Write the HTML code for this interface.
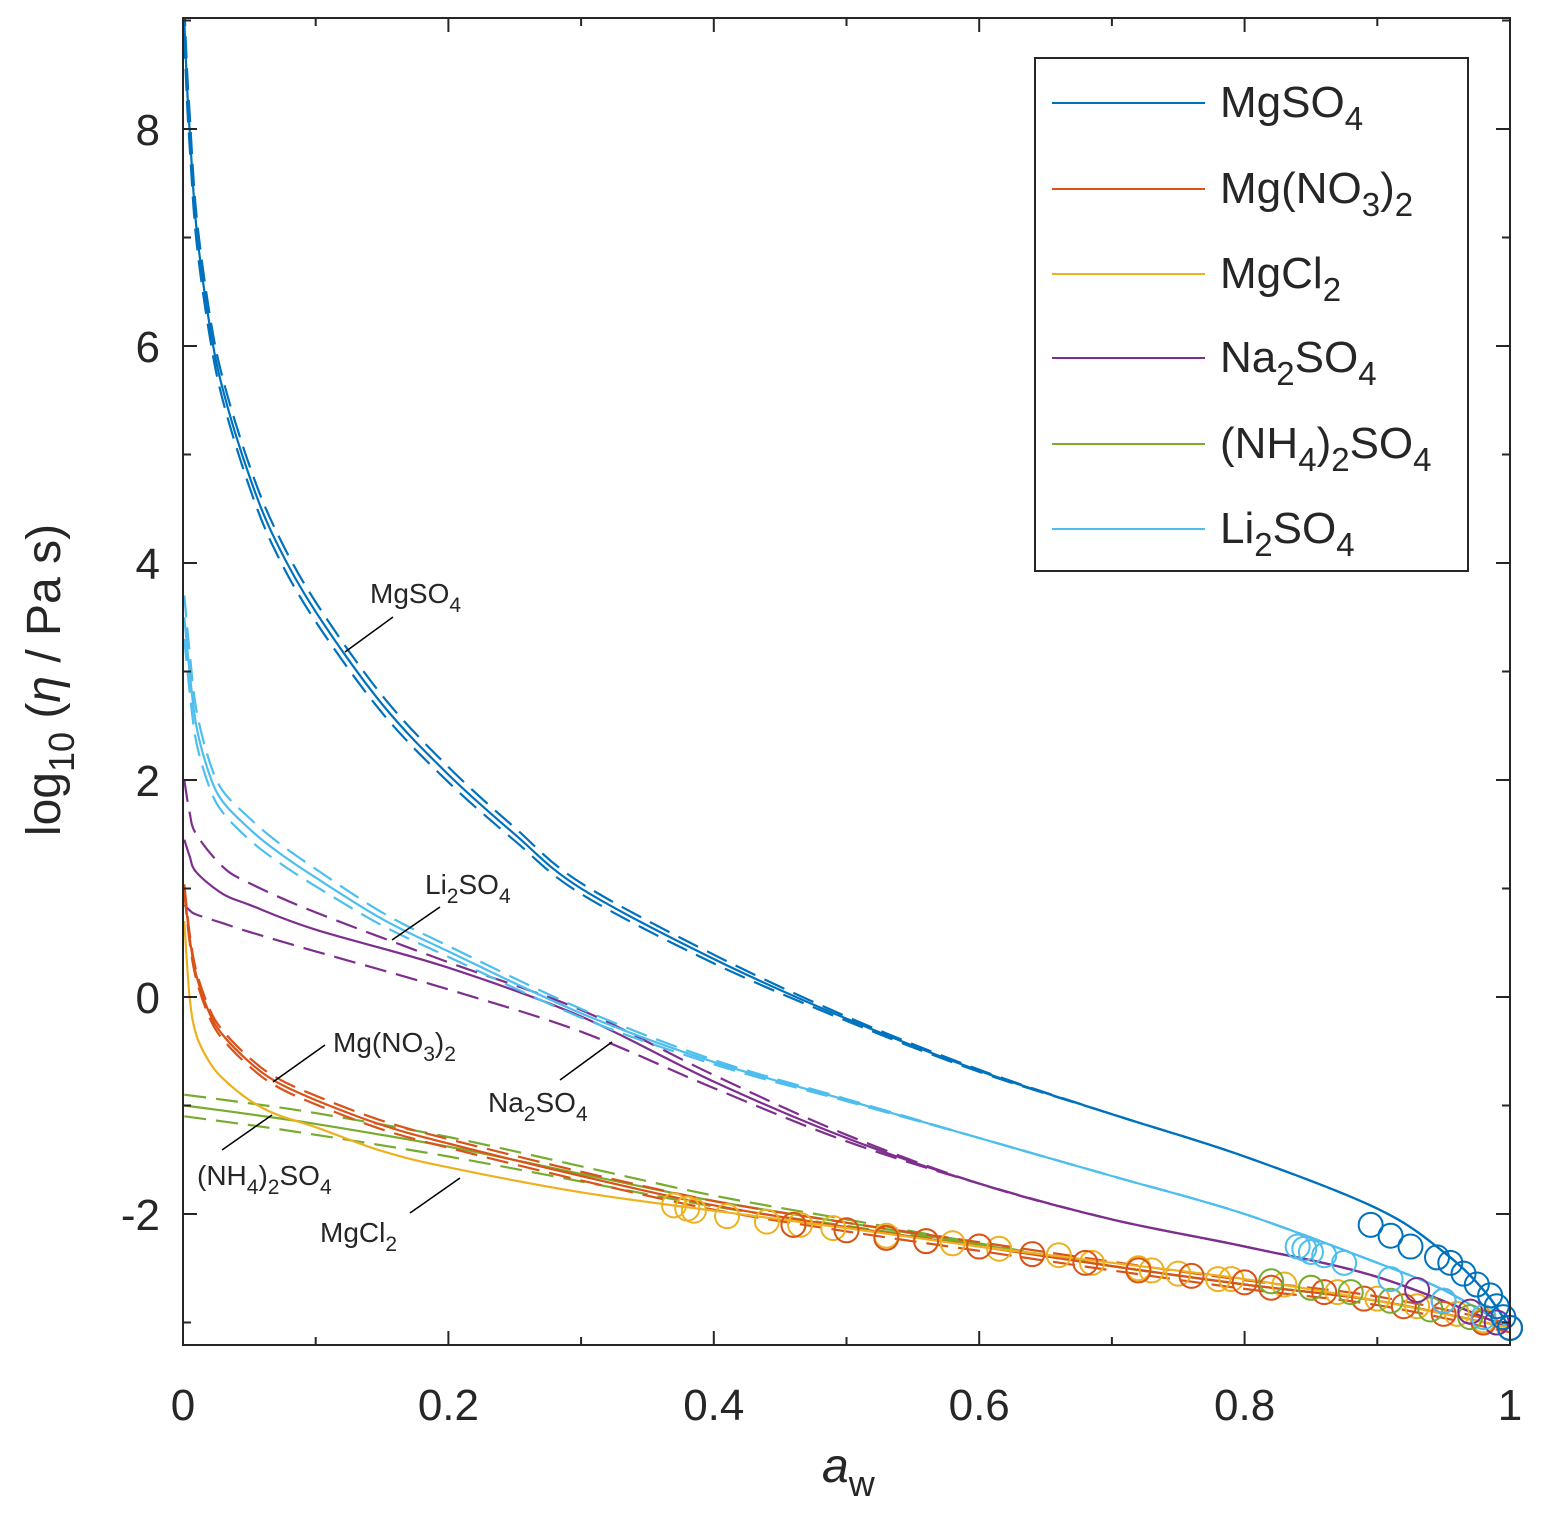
<!DOCTYPE html>
<html><head><meta charset="utf-8"><style>
body{margin:0;background:#fff;}
svg{display:block;font-family:"Liberation Sans",Arial,sans-serif;}
</style></head><body>
<svg id="chart" width="1545" height="1532" viewBox="0 0 1545 1532">
<g id="plot"></g>
</svg>
<script>
const salts = ["MgSO4","Mg(NO3)2","MgCl2","Na2SO4","(NH4)2SO4","Li2SO4"];
const colors = ["#0072BD","#D95319","#EDB120","#7E2F8E","#77AC30","#4DBEEE"];
const xTicks = [0,0.2,0.4,0.6,0.8,1];
const xTickLabels = ["0","0.2","0.4","0.6","0.8","1"];
const yTicks = [-2,0,2,4,6,8];
const yTickLabels = ["-2","0","2","4","6","8"];

const awMgSO4 = [0.001,0.003,0.005,0.01,0.02,0.03,0.05,0.07,0.1,0.15,0.2,0.25,0.3,0.4,0.5,0.6,0.7,0.8,0.9,0.95,0.98,1];
const logMgSO4 = [9,8.4,8,7.1,6.2,5.6,4.8,4.2,3.55,2.7,2.05,1.5,1.0,0.35,-0.2,-0.68,-1.08,-1.47,-1.95,-2.35,-2.7,-3.05];
const bandMgSO4 = [0.15,0.15,0.15,0.12,0.1,0.1,0.1,0.1,0.09,0.08,0.07,0.06,0.05,0.04,0.02,0.01,0,0,0,0,0,0];

const awLi = [0.001,0.005,0.01,0.02,0.03,0.05,0.07,0.1,0.15,0.2,0.3,0.4,0.5,0.6,0.7,0.8,0.9,0.95,1];
const logLi = [3.5,3.0,2.5,2.05,1.8,1.55,1.35,1.1,0.72,0.42,-0.15,-0.6,-0.95,-1.3,-1.65,-2.0,-2.45,-2.7,-3.05];
const bandLi = [0.2,0.18,0.15,0.12,0.1,0.1,0.09,0.08,0.06,0.05,0.04,0.02,0.01,0,0,0,0,0,0];

const awNa = [0.001,0.005,0.01,0.03,0.05,0.1,0.2,0.3,0.4,0.5,0.6,0.7,0.8,0.9,1];
const logNa = [1.45,1.3,1.15,0.95,0.85,0.62,0.27,-0.18,-0.78,-1.3,-1.72,-2.05,-2.3,-2.58,-3.05];
const logNaUp = [2.0,1.7,1.5,1.2,1.05,0.78,0.32,-0.12,-0.72,-1.27,-1.72,-2.05,-2.3,-2.58,-3.05];
const logNaLo = [0.85,0.8,0.76,0.68,0.6,0.42,0.07,-0.32,-0.84,-1.33,-1.72,-2.05,-2.3,-2.58,-3.05];

const awNO3 = [0.001,0.005,0.01,0.02,0.03,0.05,0.07,0.1,0.15,0.2,0.3,0.4,0.5,0.6,0.7,0.8,0.9,1];
const logNO3 = [1.0,0.55,0.2,-0.15,-0.35,-0.6,-0.78,-0.95,-1.18,-1.35,-1.65,-1.92,-2.12,-2.3,-2.48,-2.65,-2.8,-3.05];

const awCl = [0.001,0.005,0.01,0.02,0.03,0.05,0.07,0.1,0.15,0.2,0.3,0.4,0.5,0.6,0.7,0.8,0.9,1];
const logCl = [0.7,0.0,-0.35,-0.6,-0.75,-0.95,-1.08,-1.2,-1.42,-1.57,-1.8,-1.97,-2.13,-2.3,-2.45,-2.6,-2.8,-3.05];

const awNH = [0.001,0.05,0.1,0.2,0.3,0.4,0.5,0.6,0.7,0.8,0.9,1];
const logNH = [-1.0,-1.08,-1.17,-1.38,-1.63,-1.88,-2.08,-2.28,-2.48,-2.65,-2.8,-3.05];
const bandNH = [0.1,0.1,0.1,0.09,0.07,0.05,0.03,0.01,0,0,0,0];

const circAwMgSO4 = [0.895,0.91,0.925,0.945,0.955,0.965,0.975,0.985,0.99,0.995,1];
const circLogMgSO4 = [-2.1,-2.2,-2.3,-2.4,-2.45,-2.55,-2.65,-2.75,-2.85,-2.95,-3.05];
const circAwLi = [0.84,0.845,0.85,0.86,0.875,0.91,0.95,0.98,1];
const circLogLi = [-2.3,-2.32,-2.35,-2.38,-2.45,-2.6,-2.8,-2.95,-3.05];
const circAwNa = [0.93,0.95,0.97,0.99,1];
const circLogNa = [-2.7,-2.8,-2.9,-3.0,-3.05];
const circAwCl = [0.37,0.38,0.385,0.41,0.44,0.46,0.465,0.49,0.53,0.56,0.58,0.6,0.615,0.66,0.685,0.72,0.73,0.75,0.78,0.79,0.83,0.85,0.87,0.9,0.93,0.96,0.98,1];
const circLogCl = [-1.92,-1.95,-1.97,-2.02,-2.07,-2.1,-2.1,-2.13,-2.2,-2.25,-2.27,-2.3,-2.32,-2.38,-2.45,-2.5,-2.52,-2.55,-2.6,-2.6,-2.65,-2.68,-2.72,-2.78,-2.85,-2.92,-2.98,-3.05];
const circAwNO3 = [0.46,0.5,0.53,0.56,0.6,0.64,0.68,0.72,0.76,0.8,0.82,0.86,0.89,0.92,0.95,0.98,1];
const circLogNO3 = [-2.1,-2.15,-2.22,-2.25,-2.3,-2.37,-2.45,-2.52,-2.57,-2.63,-2.68,-2.72,-2.78,-2.85,-2.92,-3.0,-3.05];
const circAwNH = [0.82,0.85,0.88,0.91,0.94,0.97,1];
const circLogNH = [-2.62,-2.68,-2.72,-2.8,-2.88,-2.95,-3.05];

const X0=183, X1=1510, Y0=997, PPU=108.5, TOP=18, BOT=1345;
const sx = v => X0 + v*(X1-X0);
const sy = v => Y0 - v*PPU;
const NS="http://www.w3.org/2000/svg";
const plot=document.getElementById('plot');
function mk(tag,attrs,parent){const e=document.createElementNS(NS,tag);for(const k in attrs)e.setAttribute(k,attrs[k]);(parent||plot).appendChild(e);return e;}
function pathD(xs,ys){
  const P=xs.map((x,i)=>[sx(x),sy(ys[i])]);
  let d='M'+P[0][0].toFixed(1)+','+P[0][1].toFixed(1);
  for(let i=0;i<P.length-1;i++){
    const p0=P[i-1]||P[i],p1=P[i],p2=P[i+1],p3=P[i+2]||p2;
    const c1=[p1[0]+(p2[0]-p0[0])/6,p1[1]+(p2[1]-p0[1])/6];
    const c2=[p2[0]-(p3[0]-p1[0])/6,p2[1]-(p3[1]-p1[1])/6];
    d+=' C'+c1[0].toFixed(1)+','+c1[1].toFixed(1)+' '+c2[0].toFixed(1)+','+c2[1].toFixed(1)+' '+p2[0].toFixed(1)+','+p2[1].toFixed(1);
  }
  return d;
}
function line(xs,ys,color,dash,name){
  const p=mk('path',{d:pathD(xs,ys),fill:'none',stroke:color,'stroke-width':2.2,'stroke-linejoin':'round'});
  if(dash)p.setAttribute('stroke-dasharray','22,10');
  
  
}
function band(xs,ys,bs,color,name){
  line(xs,ys.map((y,i)=>y+bs[i]),color,true,name+'-upper');
  line(xs,ys.map((y,i)=>y-bs[i]),color,true,name+'-lower');
}
function circles(xs,ys,color,name){
  xs.forEach((x,i)=>{
    const c=mk('circle',{cx:sx(x),cy:sy(ys[i]),r:12,fill:'none',stroke:color,'stroke-width':2});
    
    
  });
}
const clip=mk('clipPath',{id:'pc'});mk('rect',{x:X0,y:TOP,width:X1-X0,height:BOT-TOP},clip);
const g0=plot; 
band(awNH,logNH,bandNH,colors[4],'nh4so4-dashed'); line(awNH,logNH,colors[4],false,'nh4so4-line');
line(awNa,logNaUp,colors[3],true,'na2so4-dashed-upper'); line(awNa,logNaLo,colors[3],true,'na2so4-dashed-lower'); line(awNa,logNa,colors[3],false,'na2so4-line');
band(awLi,logLi,bandLi,colors[5],'li2so4-dashed'); line(awLi,logLi,colors[5],false,'li2so4-line');
band(awMgSO4,logMgSO4,bandMgSO4,colors[0],'mgso4-dashed'); line(awMgSO4,logMgSO4,colors[0],false,'mgso4-line');
line(awNO3,logNO3.map(v=>v+0.04),colors[1],true,'mgno3-dashed-upper'); line(awNO3,logNO3.map(v=>v-0.04),colors[1],true,'mgno3-dashed-lower'); line(awNO3,logNO3,colors[1],false,'mgno3-line');
line(awCl,logCl,colors[2],false,'mgcl2-line');
plot.querySelectorAll('path').forEach(p=>p.setAttribute('clip-path','url(#pc)'));
circles(circAwCl,circLogCl,colors[2],'mgcl2-point');
circles(circAwNO3,circLogNO3,colors[1],'mgno3-point');
circles(circAwNH,circLogNH,colors[4],'nh4so4-point');
circles(circAwNa,circLogNa,colors[3],'na2so4-point');
circles(circAwLi,circLogLi,colors[5],'li2so4-point');
circles(circAwMgSO4,circLogMgSO4,colors[0],'mgso4-point');
const fr=mk('rect',{x:X0,y:TOP,width:X1-X0,height:BOT-TOP,fill:'none',stroke:'#262626','stroke-width':2});
 
for(let i=0;i<=10;i++){const x=sx(i/10);const L=i%2?8:14;
  mk('line',{x1:x,y1:BOT,x2:x,y2:BOT-L,stroke:'#262626','stroke-width':2});
  mk('line',{x1:x,y1:TOP,x2:x,y2:TOP+L,stroke:'#262626','stroke-width':2});}
for(let v=-3;v<=9;v++){const y=sy(v);const L=(v%2===0)?14:8;
  mk('line',{x1:X0,y1:y,x2:X0+L,y2:y,stroke:'#262626','stroke-width':2});
  mk('line',{x1:X1,y1:y,x2:X1-L,y2:y,stroke:'#262626','stroke-width':2});}
xTicks.forEach((v,i)=>{const t=mk('text',{x:sx(v),y:1420,'font-size':44,'text-anchor':'middle',fill:'#262626'});t.textContent=xTickLabels[i];
   });
yTicks.forEach((v,i)=>{const t=mk('text',{x:160,y:sy(v)+16,'font-size':44,'text-anchor':'end',fill:'#262626'});t.textContent=yTickLabels[i];
   });
</script>
<svg width="1545" height="1532" style="position:absolute;left:0;top:0">
<g font-family="Liberation Sans, Arial, sans-serif" fill="#262626">
<text x="822" y="1482" font-size="48" font-style="italic">a<tspan font-size="36" dy="14" font-style="normal">w</tspan></text>
<text transform="translate(60,680) rotate(-90)" font-size="48" text-anchor="middle">log<tspan font-size="36" dy="14">10</tspan><tspan dy="-14"> (</tspan><tspan font-style="italic">η</tspan> / Pa s)</text>
<g font-size="28" stroke-width="1.5">
<text x="370" y="603">MgSO<tspan font-size="21" dy="9">4</tspan></text>
<line x1="393" y1="617" x2="345" y2="652" stroke="#000"/>
<text x="425" y="894">Li<tspan font-size="21" dy="9">2</tspan><tspan dy="-9">SO</tspan><tspan font-size="21" dy="9">4</tspan></text>
<line x1="440" y1="907" x2="392" y2="940" stroke="#000"/>
<text x="488" y="1112">Na<tspan font-size="21" dy="9">2</tspan><tspan dy="-9">SO</tspan><tspan font-size="21" dy="9">4</tspan></text>
<line x1="560" y1="1080" x2="612" y2="1042" stroke="#000"/>
<text x="333" y="1052">Mg(NO<tspan font-size="21" dy="9">3</tspan><tspan dy="-9">)</tspan><tspan font-size="21" dy="9">2</tspan></text>
<line x1="325" y1="1045" x2="273" y2="1082" stroke="#000"/>
<text x="197" y="1185">(NH<tspan font-size="21" dy="9">4</tspan><tspan dy="-9">)</tspan><tspan font-size="21" dy="9">2</tspan><tspan dy="-9">SO</tspan><tspan font-size="21" dy="9">4</tspan></text>
<line x1="222" y1="1150" x2="272" y2="1115" stroke="#000"/>
<text x="320" y="1242">MgCl<tspan font-size="21" dy="9">2</tspan></text>
<line x1="410" y1="1213" x2="460" y2="1178" stroke="#000"/>
</g>
<g font-size="44">
<rect x="1035" y="58" width="433" height="513" fill="#fff" stroke="#262626" stroke-width="2"/>
<line x1="1052" y1="103" x2="1205" y2="103" stroke="#0072BD" stroke-width="2"/>
<text x="1220" y="117">MgSO<tspan font-size="33" dy="13">4</tspan></text>
<line x1="1052" y1="189" x2="1205" y2="189" stroke="#D95319" stroke-width="2"/>
<text x="1220" y="203">Mg(NO<tspan font-size="33" dy="13">3</tspan><tspan dy="-13">)</tspan><tspan font-size="33" dy="13">2</tspan></text>
<line x1="1052" y1="274" x2="1205" y2="274" stroke="#EDB120" stroke-width="2"/>
<text x="1220" y="288">MgCl<tspan font-size="33" dy="13">2</tspan></text>
<line x1="1052" y1="358" x2="1205" y2="358" stroke="#7E2F8E" stroke-width="2"/>
<text x="1220" y="372">Na<tspan font-size="33" dy="13">2</tspan><tspan dy="-13">SO</tspan><tspan font-size="33" dy="13">4</tspan></text>
<line x1="1052" y1="444" x2="1205" y2="444" stroke="#77AC30" stroke-width="2"/>
<text x="1220" y="458">(NH<tspan font-size="33" dy="13">4</tspan><tspan dy="-13">)</tspan><tspan font-size="33" dy="13">2</tspan><tspan dy="-13">SO</tspan><tspan font-size="33" dy="13">4</tspan></text>
<line x1="1052" y1="529" x2="1205" y2="529" stroke="#4DBEEE" stroke-width="2"/>
<text x="1220" y="543">Li<tspan font-size="33" dy="13">2</tspan><tspan dy="-13">SO</tspan><tspan font-size="33" dy="13">4</tspan></text>
</g>
</g>
</svg>
</body></html>
